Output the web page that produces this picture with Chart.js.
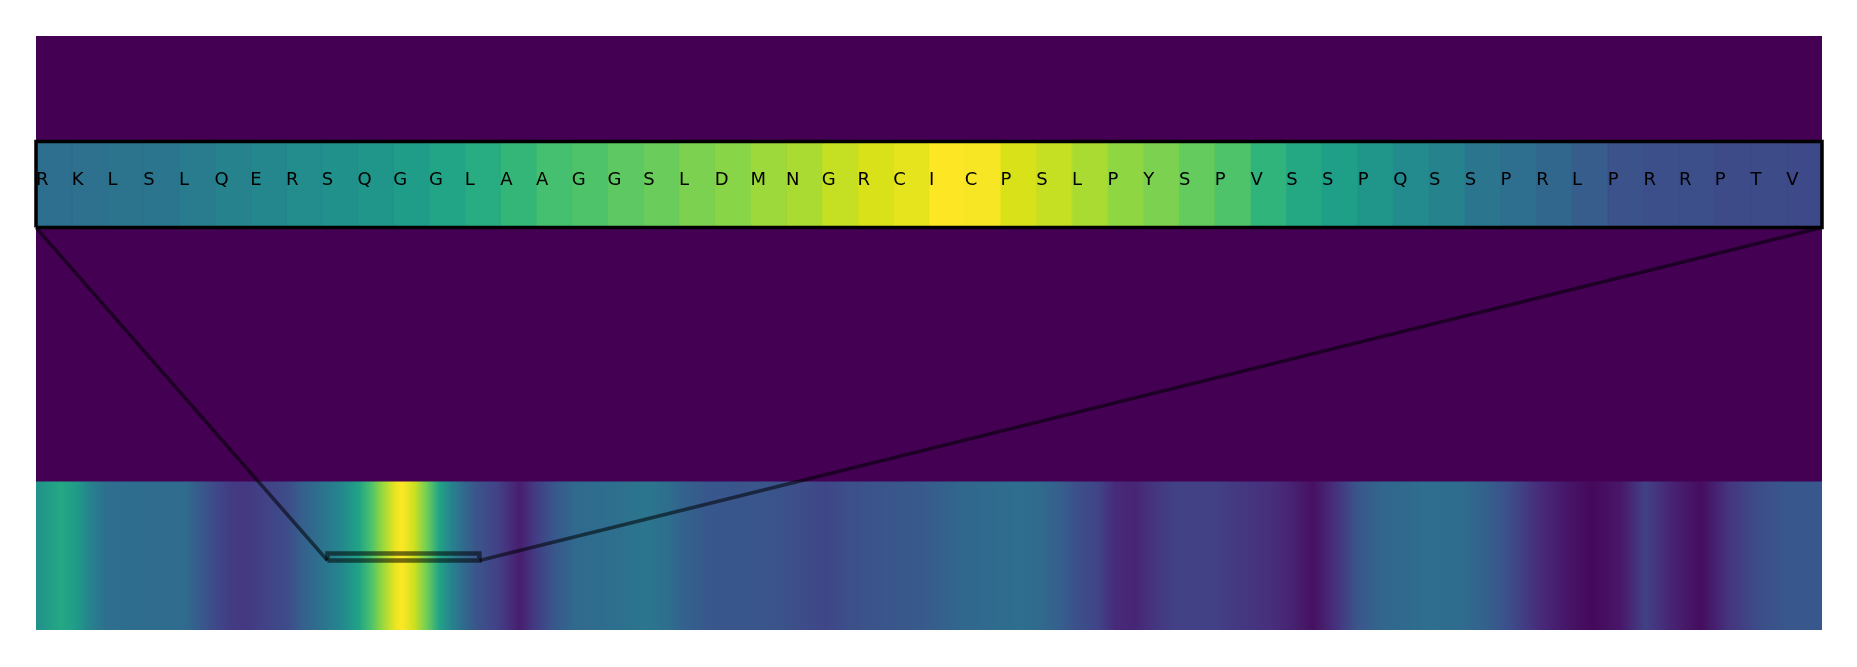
<!DOCTYPE html>
<html>
<head>
<meta charset="utf-8">
<script src="https://cdn.jsdelivr.net/npm/chart.js@4.4.1/dist/chart.umd.min.js"></script>
<style>
  html, body { margin: 0; padding: 0; background: #ffffff; }
  #wrap { width: 1857px; height: 667px; position: relative; }
</style>
</head>
<body>
<div id="wrap"><canvas id="c" width="1857" height="667"></canvas></div>
<script>
// ---------- data ----------
const stripLength = 576;
const stripPositions = [0, 8, 13, 18, 23, 37, 48, 53, 58, 63, 68, 73, 81, 86, 91, 98, 104, 108, 112, 116, 118, 122, 126, 130, 134, 138, 142, 149, 156, 161, 167, 174, 185, 197, 204, 209, 217, 236, 248, 255, 262, 273, 286, 298, 317, 324, 330, 336, 342, 348, 354, 361, 367, 380, 388, 398, 404, 412, 418, 426, 433, 448, 460, 467, 475, 485, 495, 502, 511, 519, 527, 537, 546, 555, 564, 576];
const stripValues = [0.50, 0.60, 0.54, 0.43, 0.36, 0.35, 0.35, 0.28, 0.22, 0.17, 0.16, 0.19, 0.23, 0.30, 0.36, 0.45, 0.57, 0.71, 0.85, 0.97, 1.00, 0.92, 0.78, 0.58, 0.44, 0.34, 0.26, 0.19, 0.08, 0.17, 0.27, 0.34, 0.36, 0.39, 0.36, 0.31, 0.27, 0.26, 0.23, 0.21, 0.24, 0.26, 0.28, 0.33, 0.36, 0.34, 0.30, 0.24, 0.21, 0.12, 0.10, 0.15, 0.19, 0.19, 0.16, 0.13, 0.10, 0.04, 0.12, 0.26, 0.32, 0.36, 0.35, 0.31, 0.24, 0.12, 0.05, 0.02, 0.06, 0.19, 0.10, 0.03, 0.15, 0.23, 0.27, 0.27];

const insetLetters = ['R','K','L','S','L','Q','E','R','S','Q','G','G','L','A','A','G','G','S','L','D','M','N','G','R','C','I','C','P','S','L','P','Y','S','P','V','S','S','P','Q','S','S','P','R','L','P','R','R','P','T','V'];
const insetValues = [0.36,0.37,0.38,0.39,0.41,0.44,0.46,0.48,0.50,0.52,
                     0.55,0.58,0.62,0.66,0.70,0.72,0.75,0.77,0.80,0.82,
                     0.85,0.87,0.91,0.94,0.96,1.00,0.99,0.94,0.91,0.87,
                     0.83,0.80,0.76,0.72,0.65,0.60,0.56,0.52,0.47,0.44,
                     0.39,0.36,0.33,0.29,0.25,0.24,0.24,0.23,0.23,0.22];

const zoomStart = 94, zoomEnd = 143;      // residues shown in the inset
const zoomLow = 0.468, zoomHigh = 0.515;  // zoom box on the strip row
const insetLow = 2.71, insetHigh = 3.29;  // inset band
const letterBaseline = 3.0;
const rowCount = 4;                        // heatmap rows (strip is the bottom one)

// ---------- viridis colormap ----------
const VIRIDIS = ['#440154','#48186a','#472d7b','#424086','#3b528b','#33638d','#2c728e','#26828e',
                 '#21918c','#1fa088','#28ae80','#3fbc73','#5ec962','#84d44b','#addc30','#d8e219','#fde725'];
function hexToRgb(h){ return [parseInt(h.slice(1,3),16), parseInt(h.slice(3,5),16), parseInt(h.slice(5,7),16)]; }
const VIR_RGB = VIRIDIS.map(hexToRgb);
function viridis(v){
  v = Math.max(0, Math.min(1, v));
  const f = v * (VIR_RGB.length - 1);
  const i = Math.min(VIR_RGB.length - 2, Math.floor(f));
  const t = f - i;
  const a = VIR_RGB[i], b = VIR_RGB[i+1];
  const c = a.map((x,k)=>Math.round(x + (b[k]-x)*t));
  return 'rgb(' + c.join(',') + ')';
}

// ---------- plugins ----------
const backgroundPlugin = {
  id: 'heatBackground',
  beforeDatasetsDraw(chart){
    const {ctx, chartArea:a} = chart;
    ctx.save();
    ctx.fillStyle = viridis(0);
    ctx.fillRect(a.left, a.top, a.right - a.left, a.bottom - a.top);
    ctx.restore();
  }
};
const lettersPlugin = {
  id: 'insetLetters',
  afterDatasetsDraw(chart){
    const {ctx} = chart;
    const xc = chart.scales.xc, y = chart.scales.y;
    ctx.save();
    ctx.fillStyle = '#000000';
    ctx.font = '18px "DejaVu Sans"';
    ctx.textAlign = 'left';
    ctx.textBaseline = 'alphabetic';
    const yb = y.getPixelForValue(letterBaseline);
    insetLetters.forEach((L, i) => {
      ctx.fillText(L, xc.getPixelForValue(i - 0.5), yb);
    });
    ctx.restore();
  }
};

// ---------- strip gradient built from the scale ----------
function stripGradient(context){
  const chart = context.chart;
  const a = chart.chartArea;
  if (!a) return null;
  const xs = chart.scales.x;
  const g = chart.ctx.createLinearGradient(a.left, 0, a.right, 0);
  const w = a.right - a.left;
  stripPositions.forEach((p, i) => {
    const off = (xs.getPixelForValue(p) - a.left) / w;
    g.addColorStop(Math.max(0, Math.min(1, off)), viridis(stripValues[i]));
  });
  return g;
}

const connectorColor = 'rgba(0,0,0,0.55)';

// inset cells: one closed shape per residue on the inset's own linear axis
const cellDatasets = insetValues.map((v, i) => ({
  type: 'line', xAxisID: 'xc', yAxisID: 'y', order: 1,
  data: [{x:i-0.5,y:insetLow},{x:i+0.5,y:insetLow},{x:i+0.5,y:insetHigh},{x:i-0.5,y:insetHigh},{x:i-0.5,y:insetLow}],
  backgroundColor: viridis(v), borderColor: viridis(v), borderWidth: 0.6,
  pointRadius: 0, fill: 'shape', tension: 0
}));

const chart = new Chart(document.getElementById('c'), {
  type: 'line',
  data: {
    datasets: [
      ...cellDatasets,
      { // inset frame
        type: 'line', xAxisID: 'x', yAxisID: 'y', order: 0,
        data: [{x:0,y:insetLow},{x:stripLength,y:insetLow},{x:stripLength,y:insetHigh},{x:0,y:insetHigh},{x:0,y:insetLow}],
        borderColor: '#000000', borderWidth: 3.5, pointRadius: 0, fill: false, clip: false,
        borderJoinStyle: 'miter', tension: 0
      },
      { // connector left
        type: 'line', xAxisID: 'x', yAxisID: 'y', order: 2,
        data: [{x:zoomStart,y:zoomLow},{x:0,y:insetLow}],
        borderColor: connectorColor, borderWidth: 3.5, pointRadius: 0, fill: false, clip: false
      },
      { // connector right
        type: 'line', xAxisID: 'x', yAxisID: 'y', order: 2,
        data: [{x:zoomEnd,y:zoomLow},{x:stripLength,y:insetLow}],
        borderColor: connectorColor, borderWidth: 3.5, pointRadius: 0, fill: false, clip: false
      },
      { // zoom box
        type: 'line', xAxisID: 'x', yAxisID: 'y', order: 2,
        data: [{x:zoomStart,y:zoomLow},{x:zoomEnd,y:zoomLow},{x:zoomEnd,y:zoomHigh},{x:zoomStart,y:zoomHigh},{x:zoomStart,y:zoomLow}],
        borderColor: connectorColor, borderWidth: 4.5, pointRadius: 0, fill: false, clip: false,
        borderJoinStyle: 'miter'
      },
      { // sequence strip
        type: 'line', xAxisID: 'x', yAxisID: 'y', order: 5,
        data: stripPositions.map(p => ({x:p, y:1})),
        borderWidth: 0, borderColor: 'rgba(0,0,0,0)', pointRadius: 0,
        fill: 'origin', backgroundColor: stripGradient
      }
    ]
  },
  options: {
    responsive: false,
    devicePixelRatio: 1,
    animation: false,
    layout: { padding: { left: 36, right: 35, top: 36, bottom: 37 } },
    plugins: { legend: { display: false }, tooltip: { enabled: false } },
    scales: {
      x: { type: 'linear', min: 0, max: stripLength, display: false, offset: false },
      xc: { type: 'linear', axis: 'x', min: -0.5, max: insetLetters.length - 0.5, display: false, offset: false },
      y: { type: 'linear', min: 0, max: rowCount, display: false, offset: false }
    }
  },
  plugins: [backgroundPlugin, lettersPlugin]
});
</script>
</body>
</html>
